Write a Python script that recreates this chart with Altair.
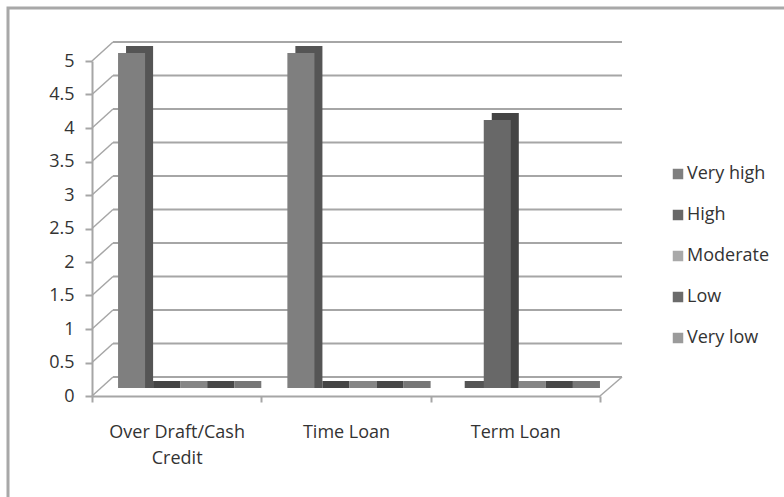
import altair as alt
import pandas as pd

# ---- data -------------------------------------------------------------
categories = ["Over Draft/Cash Credit", "Time Loan", "Term Loan"]
series = ["Very high", "High", "Moderate", "Low", "Very low"]
od_values = [5, 0, 0, 0, 0]
time_values = [5, 0, 0, 0, 0]
term_values = [0, 4, 0, 0, 0]
y_ticks = [0, 0.5, 1, 1.5, 2, 2.5, 3, 3.5, 4, 4.5, 5]

front_colors = ["#7f7f7f", "#686868", "#a9a9a9", "#6b6b6b", "#9b9b9b"]
back_colors = ["#555555", "#444444", "#858585", "#474747", "#777777"]

rows = []
for cat, vals in zip(categories, [od_values, time_values, term_values]):
    for s, v in zip(series, vals):
        rows.append({"category": cat, "series": s, "value": v})
df = pd.DataFrame(rows)
grid_df = pd.DataFrame({"tick": y_ticks})

# ---- layout / style ---------------------------------------------------
W, H = 508, 335
FONT = "Open Sans"
FS = 18
LINE = "#a6a6a6"
TEXT = "#333333"
DX_BACK, DY_BACK = 12, -11     # back wall shift
DX_FRONT, DY_FRONT = -9, 8     # front axis shift

yscale = alt.Scale(domain=[0, 5], nice=False, zero=True)
y_axis = alt.Axis(title=None, values=y_ticks, format="~g", offset=-DX_FRONT,
                  position=DY_FRONT, grid=False, domainColor=LINE, domainWidth=2,
                  tickColor=LINE, tickWidth=2, tickSize=7, labelPadding=11,
                  labelFont=FONT, labelFontSize=FS, labelColor=TEXT)
xoff_scale = alt.Scale(paddingInner=0, paddingOuter=0.63)

border = alt.Chart(pd.DataFrame({"k": [0]})).mark_rect(
    fill="transparent", stroke="#a8a8a8", strokeWidth=3
).encode(x=alt.value(-93), x2=alt.value(720), y=alt.value(-45), y2=alt.value(480))

grid_h = alt.Chart(grid_df).mark_rule(color=LINE, strokeWidth=2, yOffset=DY_BACK).encode(
    y=alt.Y("tick:Q", scale=yscale, axis=y_axis),
    x=alt.value(DX_BACK), x2=alt.value(W + DX_BACK + 1),
)

grid_d = alt.Chart(grid_df).mark_rule(
    color=LINE, strokeWidth=1.5, yOffset=DY_FRONT, y2Offset=DY_BACK
).encode(
    y=alt.Y("tick:Q", scale=yscale, axis=y_axis),
    y2="tick:Q",
    x=alt.value(DX_FRONT), x2=alt.value(DX_BACK),
)

floor_edge = alt.Chart(grid_df).transform_filter(alt.datum.tick == 0).mark_rule(
    color=LINE, strokeWidth=1.5, yOffset=DY_FRONT, y2Offset=DY_BACK
).encode(
    y=alt.Y("tick:Q", scale=yscale, axis=y_axis),
    y2="tick:Q",
    x=alt.value(W + DX_FRONT), x2=alt.value(W + DX_BACK + 1),
)

back = alt.Chart(df).mark_bar(yOffset=-7).encode(
    x=alt.X("category:N", sort=categories,
            scale=alt.Scale(range=[8, W + 8], paddingInner=0, paddingOuter=0),
            axis=None),
    xOffset=alt.XOffset("series:N", sort=series, scale=xoff_scale),
    y=alt.Y("value:Q", scale=yscale, stack=None, axis=y_axis),
    color=alt.Color("series:N", sort=series,
                    scale=alt.Scale(domain=series, range=back_colors), legend=None),
)

label_expr = ("datum.label == 'Over Draft/Cash Credit' ? "
              "['Over Draft/Cash', 'Credit'] : datum.label")

front = alt.Chart(df).mark_bar().encode(
    x=alt.X("category:N", sort=categories,
            scale=alt.Scale(paddingInner=0, paddingOuter=0),
            axis=alt.Axis(title=None, orient="bottom", offset=DY_FRONT, position=DX_FRONT,
                          tickBand="extent", domainColor=LINE, domainWidth=2,
                          tickColor=LINE, tickWidth=2, tickSize=6, labelAngle=0,
                          labelFont=FONT, labelFontSize=FS, labelColor=TEXT,
                          labelPadding=21, labelLineHeight=26, labelBaseline="top",
                          labelLimit=400, labelExpr=label_expr)),
    xOffset=alt.XOffset("series:N", sort=series, scale=xoff_scale),
    y=alt.Y("value:Q", scale=yscale, stack=None, axis=y_axis),
    color=alt.Color("series:N", sort=series,
                    scale=alt.Scale(domain=series, range=front_colors),
                    legend=alt.Legend(title=None, orient="none", legendX=568, legendY=112,
                                      symbolType="square", symbolSize=110,
                                      symbolStrokeWidth=0, labelFont=FONT,
                                      labelFontSize=FS, labelColor=TEXT,
                                      rowPadding=23, labelOffset=0)),
)

chart = alt.layer(border, grid_h, grid_d, floor_edge, back, front).resolve_scale(
    x="independent", xOffset="independent", color="independent"
).properties(
    width=W, height=H,
    padding={"left": 101, "top": 53, "right": 175, "bottom": 109},
    autosize=alt.AutoSizeParams(type="none"),
    background="white",
).configure_view(strokeWidth=0)

chart.save("out.html", embed_options={"renderer": "svg", "actions": False})
